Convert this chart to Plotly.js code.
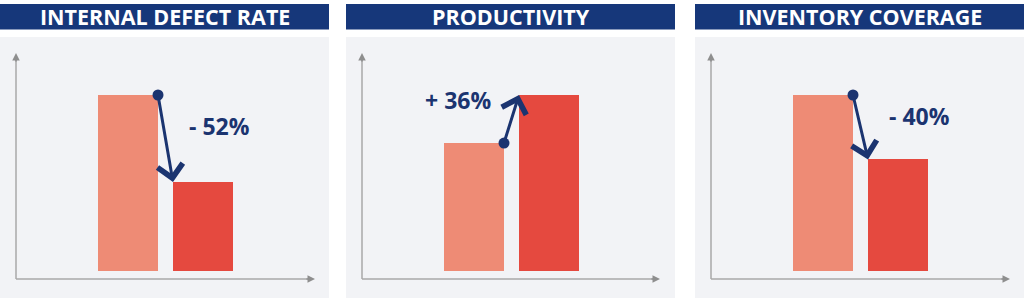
<!DOCTYPE html>
<html>
<head>
<meta charset="utf-8">
<script src="https://cdn.plot.ly/plotly-3.0.1.min.js"></script>
<style>html,body{margin:0;padding:0;background:#fff;}#chart{width:1024px;height:298px;}</style>
</head>
<body>
<div id="chart"></div>
<script>
// ---- data ----
const panelTitles = ['INTERNAL DEFECT RATE', 'PRODUCTIVITY', 'INVENTORY COVERAGE'];
const periods = ['Before', 'After'];
const defectRate = [100, 50.6];
const productivity = [72.7, 100];
const inventoryCoverage = [100, 63.4];
const changeLabels = ['- 52%', '+ 36%', '- 40%'];

// ---- style / layout ----
const W = 1024, H = 298;
const navy = '#16377a', arrowNavy = '#1b3470';
const c1 = '#ee8b75', c2 = '#e5493f';
const panelBg = '#f2f3f6', axisCol = '#a8a8a8', axisHead = '#8e8e8e';
const panels = [
  {x0: 0, x1: 329, ax0: 16, ax1: 315, lab: {dx: 54, dy: 12}},
  {x0: 346, x1: 675, ax0: 362, ax1: 660, lab: {dx: -54, dy: 19}},
  {x0: 695, x1: 1024, ax0: 711, ax1: 1010, lab: {dx: 59, dy: 11}}
];
const series = [defectRate, productivity, inventoryCoverage];
const axisTop = 53, axisBottom = 279, barBase = 271, pxPerUnit = 1.76;
const yRange = [-(axisBottom - barBase) / pxPerUnit, (barBase - axisTop) / pxPerUnit];
const barW = 0.8, slot = 75, firstOffset = 112;

const traces = [], shapes = [], annotations = [];
const layout = {
  width: W, height: H, margin: {l: 0, r: 0, t: 0, b: 0},
  paper_bgcolor: '#ffffff', plot_bgcolor: 'rgba(0,0,0,0)',
  showlegend: false, bargap: 0
};

panels.forEach((p, i) => {
  const n = i === 0 ? '' : String(i + 1);
  const xa = 'x' + n, ya = 'y' + n;
  const plotW = p.ax1 - p.ax0;
  const xr = [-firstOffset / slot, (plotW - firstOffset) / slot];
  layout['xaxis' + n] = {domain: [p.ax0 / W, p.ax1 / W], range: xr, visible: false, fixedrange: true, anchor: ya};
  layout['yaxis' + n] = {domain: [1 - axisBottom / H, 1 - axisTop / H], range: yRange, visible: false, fixedrange: true, anchor: xa};

  // panel background and banner
  shapes.push({type: 'rect', xref: 'paper', yref: 'paper', x0: p.x0 / W, x1: p.x1 / W, y0: 0, y1: 1 - 37 / H,
    fillcolor: panelBg, line: {width: 0}, layer: 'below'});
  shapes.push({type: 'rect', xref: 'paper', yref: 'paper', x0: p.x0 / W, x1: p.x1 / W, y0: 1 - 29.5 / H, y1: 1 - 4 / H,
    fillcolor: navy, line: {width: 0}, layer: 'below'});
  annotations.push({xref: 'paper', yref: 'paper', x: (p.x0 + p.x1) / 2 / W, y: 1 - 17 / H,
    xanchor: 'center', yanchor: 'middle', showarrow: false, text: '<b>' + panelTitles[i] + '</b>',
    font: {family: 'Open Sans, sans-serif', size: 21.5, color: '#ffffff'}});

  // axes lines with arrowheads
  shapes.push({type: 'line', xref: xa + ' domain', yref: ya + ' domain', x0: 0, x1: 0, y0: 0, y1: 0.97,
    line: {color: axisCol, width: 1.5}});
  shapes.push({type: 'line', xref: xa + ' domain', yref: ya + ' domain', x0: 0, x1: 0.975, y0: 0, y1: 0,
    line: {color: axisCol, width: 1.5}});
  annotations.push({xref: xa + ' domain', yref: ya + ' domain', x: 0, y: 1, ax: 0, ay: 10, text: '',
    showarrow: true, arrowhead: 2, arrowsize: 1, arrowwidth: 1.5, arrowcolor: axisHead, standoff: 0});
  annotations.push({xref: xa + ' domain', yref: ya + ' domain', x: 1, y: 0, ax: -10, ay: 0, text: '',
    showarrow: true, arrowhead: 2, arrowsize: 1, arrowwidth: 1.5, arrowcolor: axisHead, standoff: 0});

  const vals = series[i];
  // bars
  traces.push({type: 'bar', x: [0, 1], y: vals, width: [barW, barW], xaxis: xa, yaxis: ya,
    marker: {color: [c1, c2], line: {width: 0}}, hoverinfo: 'skip', name: periods.join('/')});
  // dot at top-right corner of first bar
  traces.push({type: 'scatter', mode: 'markers', x: [barW / 2], y: [vals[0]], xaxis: xa, yaxis: ya,
    marker: {size: 11, color: arrowNavy}, hoverinfo: 'skip', cliponaxis: false});
  // change arrow
  annotations.push({xref: xa, yref: ya, axref: xa, ayref: ya, x: 1 - barW / 2, y: vals[1], ax: barW / 2, ay: vals[0],
    text: '', showarrow: true, arrowhead: 4, arrowsize: 1.65, arrowwidth: 3, arrowcolor: arrowNavy, standoff: 0});
  // change label
  annotations.push({xref: xa, yref: ya, x: 0.5, y: (vals[0] + vals[1]) / 2, xshift: p.lab.dx, yshift: p.lab.dy,
    text: '<b>' + changeLabels[i] + '</b>', showarrow: false, xanchor: 'center', yanchor: 'middle',
    font: {family: 'Open Sans, sans-serif', size: 23, color: arrowNavy}});
});

layout.shapes = shapes;
layout.annotations = annotations;
Plotly.newPlot('chart', traces, layout, {displayModeBar: false, staticPlot: true});
</script>
</body>
</html>
